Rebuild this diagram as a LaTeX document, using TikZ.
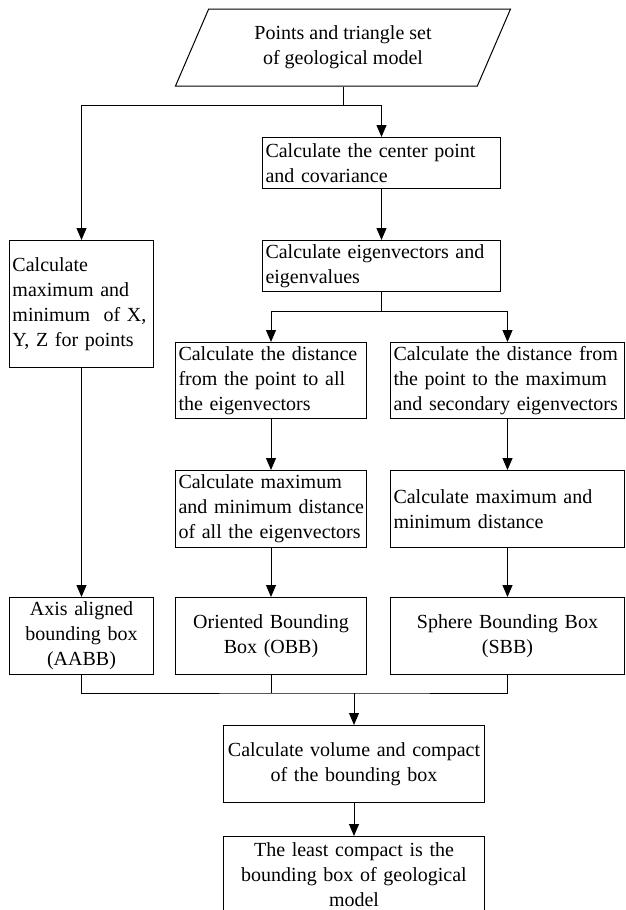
\documentclass[tikz,border=0pt]{standalone}
\usepackage{fontspec}
\setmainfont{Liberation Serif}
\usetikzlibrary{arrows.meta,shapes.geometric}

\begin{document}
\begin{tikzpicture}[>={Triangle[width=10pt,length=12pt]},x=1pt,y=-1pt,font=\fontsize{20}{25}\selectfont]
  \tikzstyle{box}=[draw,line width=1pt,anchor=north west,inner xsep=3pt,inner ysep=0pt]
  \tikzstyle{lbox}=[box,align=left]
  \tikzstyle{cbox}=[box,align=center]
  \tikzstyle{line}=[line width=1pt]
  \useasboundingbox (0,0) rectangle (625,910);
  \node[draw,line width=1pt,shape=trapezium,trapezium left angle=65.5,trapezium right angle=114.5,trapezium stretches=true,minimum width=336pt,minimum height=77pt,align=center] (input) at (343,47.5) {Points and triangle set\\of geological model};
  \node[lbox,text width=232pt,minimum height=51pt] (ctr) at (262,137) {Calculate the center point\\and covariance};
  \node[lbox,text width=232pt,minimum height=51pt] (eigen) at (262,240) {Calculate eigenvectors and\\eigenvalues};
  \node[lbox,text width=138pt,minimum height=127pt] (minmax) at (9,240) {Calculate\\maximum and\\minimum~ of X,\\Y, Z for points};
  \node[lbox,text width=185pt,minimum height=76pt] (dist1) at (175,342) {Calculate the distance\\from the point to all\\the eigenvectors};
  \node[lbox,text width=228pt,minimum height=76pt] (dist2) at (390,342) {Calculate the distance from\\the point to the maximum\\and secondary eigenvectors};
  \node[lbox,text width=185pt,minimum height=77pt] (range1) at (175,470) {Calculate maximum\\\mbox{and minimum distance}\\\mbox{of all the eigenvectors}};
  \node[lbox,text width=228pt,minimum height=77pt] (range2) at (390,470) {Calculate maximum and\\minimum distance};
  \node[cbox,text width=138pt,minimum height=77pt] (aabb) at (9,597) {Axis aligned\\bounding box\\(AABB)};
  \node[cbox,text width=185pt,minimum height=77pt] (obb) at (175,597) {Oriented Bounding\\Box (OBB)};
  \node[cbox,text width=228pt,minimum height=77pt] (sbb) at (390,597) {Sphere Bounding Box\\(SBB)};
  \node[cbox,text width=255pt,minimum height=77pt] (vol) at (223,725) {Calculate volume and compact\\of the bounding box};
  \node[cbox,text width=255pt,minimum height=76pt] (least) at (223,836) {The least compact is the\\bounding box of geological\\model};
  \draw[line] (input.south) -- ++(0,19) coordinate (fork1);
  \draw[line,->] (fork1) -| (minmax.north);
  \draw[line,->] (fork1) -| (ctr.north);
  \draw[line,->] (ctr) -- (eigen);
  \draw[line] (eigen.south) -- ++(0,19) coordinate (fork2);
  \draw[line,->] (fork2) -| (dist1.north);
  \draw[line,->] (fork2) -| (dist2.north);
  \draw[line,->] (dist1) -- (range1);
  \draw[line,->] (dist2) -- (range2);
  \draw[line,->] (minmax) -- (aabb);
  \draw[line,->] (range1) -- (obb);
  \draw[line,->] (range2) -- (sbb);
  \coordinate (join) at (vol.north |- 0,693);
  \draw[line] (aabb.south) |- (join) -| (sbb.south);
  \draw[line] (obb.south) -- (obb.south |- join);
  \draw[line,->] (join) -- (vol);
  \draw[line,->] (vol) -- (least);
\end{tikzpicture}
\end{document}
